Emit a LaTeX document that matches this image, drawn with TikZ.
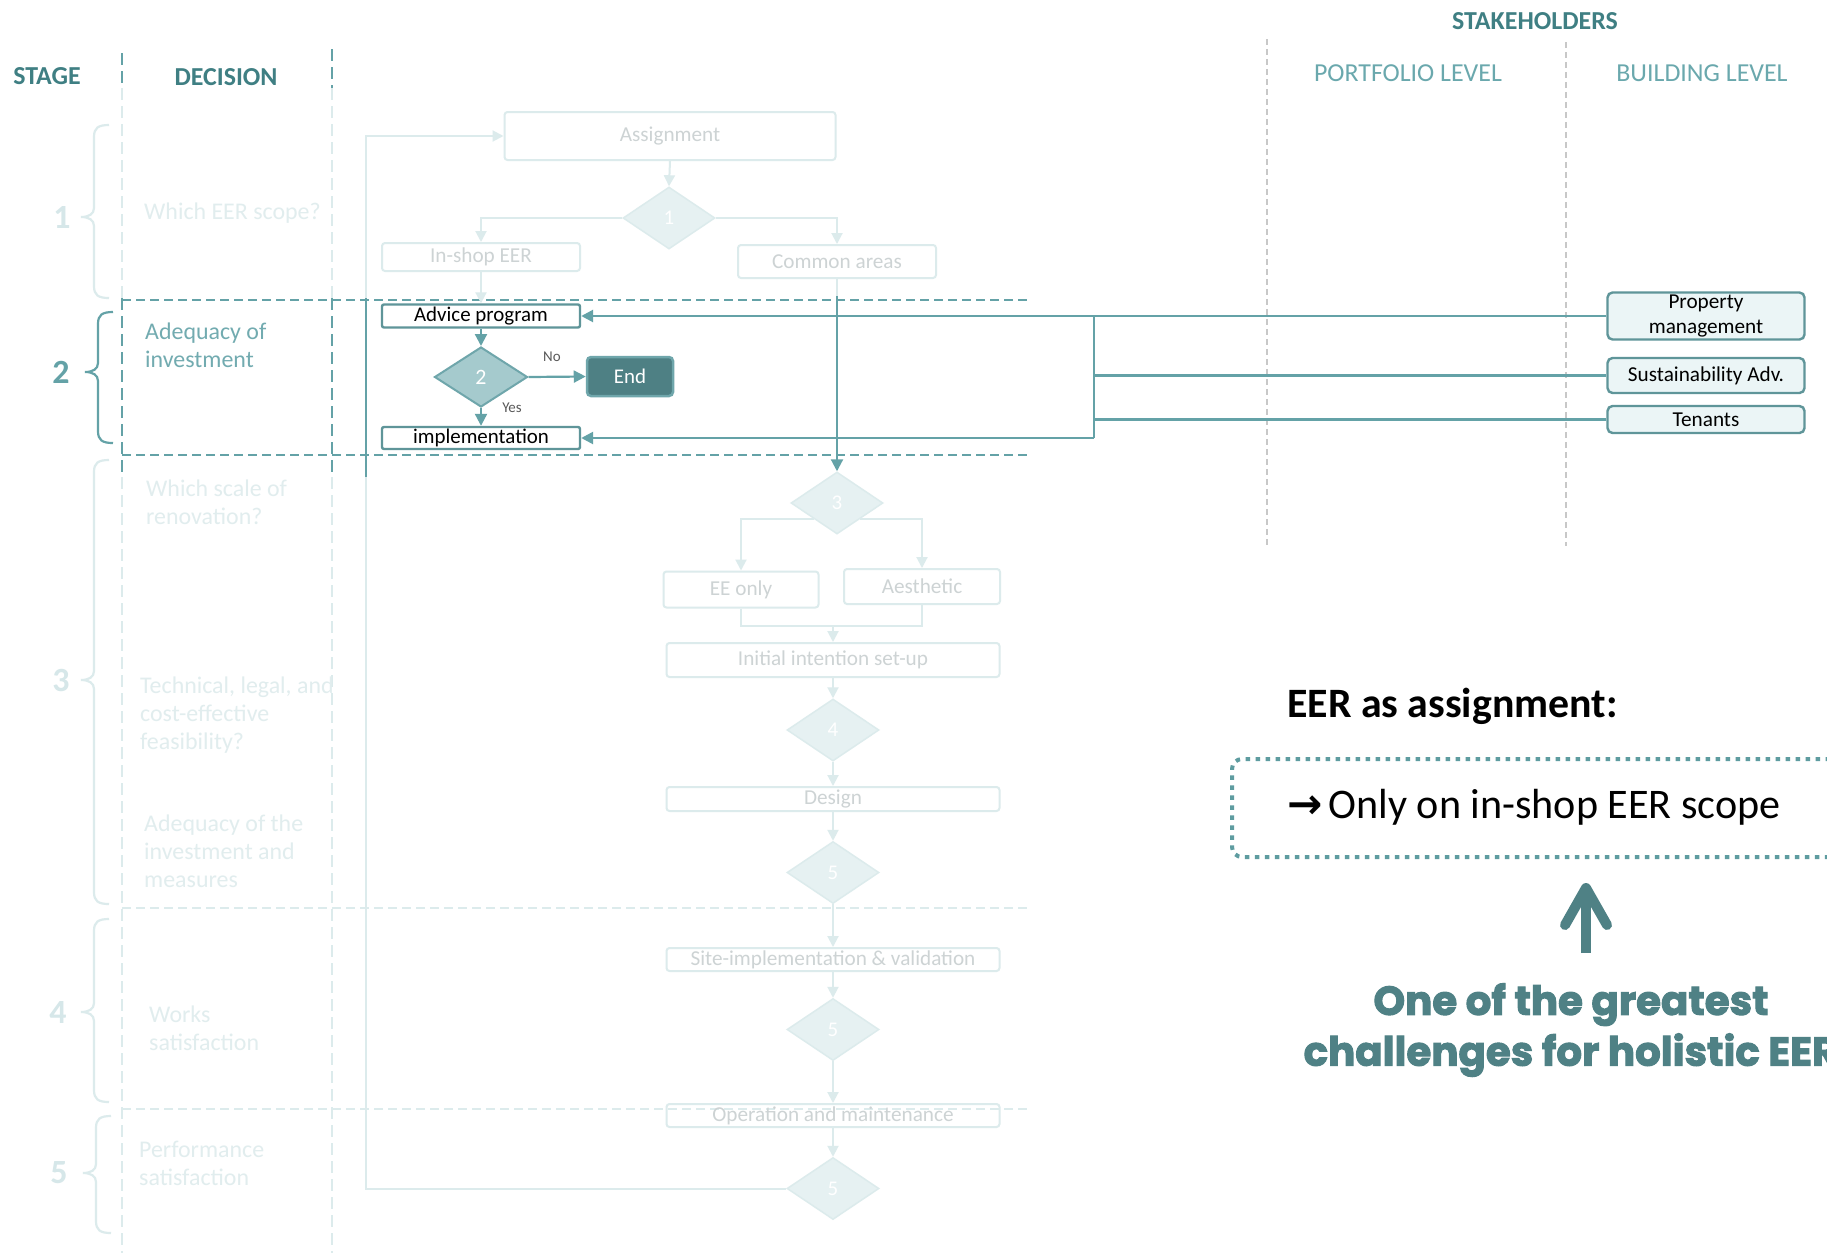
\documentclass[tikz,border=0pt]{standalone}
\usepackage{fontspec}
\setmainfont{Carlito}
\newfontfamily\heavy{Poppins}[BoldFeatures={FakeBold=2.5}]
\newfontfamily\symb{DejaVu Sans}
\usetikzlibrary{shapes.geometric,arrows.meta}
\newcommand\fsz[2]{\fontsize{#1}{#2}\selectfont}
\definecolor{cHdr}{HTML}{3F7F83}
\definecolor{cStrong}{HTML}{64A2A7}
\definecolor{cBoxLine}{HTML}{5F9599}
\definecolor{cFadeLine}{HTML}{DCEBEC}
\definecolor{cFadeText}{HTML}{CDD3D4}
\definecolor{cFadeDec}{HTML}{E1EDEE}
\definecolor{cFadeNum}{HTML}{D6E7E9}
\definecolor{cFadeFill}{HTML}{E6F1F2}
\definecolor{cDiamond}{HTML}{A5CACD}
\definecolor{cEnd}{HTML}{4E8084}
\definecolor{cEndLine}{HTML}{6FA6AB}
\definecolor{cStake}{HTML}{EBF5F6}
\definecolor{cLevel}{HTML}{6AA8AD}
\definecolor{cDec}{HTML}{72ABB0}
\definecolor{cBig}{HTML}{4F8185}
\definecolor{cGrey}{HTML}{C8C8C8}
\definecolor{cDot}{HTML}{5E9CA0}
\newcommand\stbrace[5]{\draw[#1, line width=2.2bp] (#2+15,#3) .. controls (#2+4,#3) and (#2,#3+3) .. (#2,#3+12) -- (#2,#4-9) .. controls (#2,#4-3) and (#2-5,#4) .. (#2-13,#4) .. controls (#2-5,#4) and (#2,#4+3) .. (#2,#4+9) -- (#2,#5-12) .. controls (#2,#5-3) and (#2+4,#5) .. (#2+15,#5);}
\tikzset{
 hdrs/.style={font=\bfseries\fsz{26}{30}, text=cHdr, inner sep=0},
 lvl/.style={font=\fsz{26}{30}, text=cLevel, inner sep=0},
 num/.style={font=\bfseries\fsz{34}{34}, inner sep=0},
 dec/.style={font=\fsz{24}{28}, align=left, anchor=west, inner sep=0},
 fbox/.style={rectangle, rounded corners=3bp, draw=cFadeLine, line width=2bp, inner sep=0, text=cFadeText, font=\fsz{21.3}{24}},
 sbox/.style={rectangle, rounded corners=2bp, draw=cBoxLine, line width=2.4bp, fill=white, inner sep=0, text=black, font=\fsz{21}{24}},
 fdia/.style={diamond, draw=cFadeLine, fill=cFadeFill, line width=1.5bp, inner sep=0, minimum width=92bp, minimum height=62bp, text=white, font=\fsz{21}{24}},
 stake/.style={rectangle, rounded corners=5bp, draw=cBoxLine, line width=2.4bp, fill=cStake, inner sep=0, text=black, font=\fsz{21.3}{25}, align=center, minimum width=197bp},
 fline/.style={draw=cFadeLine, line width=2bp},
 farr/.style={fline, -{Triangle[length=11bp,width=11bp]}},
 sline/.style={draw=cStrong, line width=2.2bp},
 sarr/.style={sline, -{Triangle[length=12bp,width=12bp]}},
 sdash/.style={draw=cStrong, line width=2.5bp, dash pattern=on 9bp off 5bp},
 fdash/.style={draw=cFadeLine, line width=2.5bp, dash pattern=on 9bp off 5bp},
 svdash/.style={draw=cStrong, line width=1.8bp, dash pattern=on 12bp off 6bp},
 fvdash/.style={draw=cFadeLine, line width=1.8bp, dash pattern=on 12bp off 6bp},
 gdash/.style={draw=cGrey, line width=1.3bp, dash pattern=on 6bp off 4bp},
 lbl/.style={font=\fsz{15}{16}, text=black!65, inner sep=0},
}
\begin{document}
\begin{tikzpicture}[x=1bp,y=-1bp]
\useasboundingbox (0,0) rectangle (1827,1253);
\clip (0,0) rectangle (1827,1253);
\fill[white] (0,0) rectangle (1827,1253);

% column separators
\draw[svdash] (122,53) -- (122,88);
\draw[fvdash] (122,88) -- (122,298);
\draw[svdash] (122,298) -- (122,477);
\draw[fvdash] (122,477) -- (122,1253);
\draw[svdash] (332,49) -- (332,88);
\draw[fvdash] (332,88) -- (332,298);
\draw[svdash] (332,298) -- (332,477);
\draw[fvdash] (332,477) -- (332,1253);
\draw[gdash] (1267,39) -- (1267,546);
\draw[gdash] (1566,42) -- (1566,546);

% stage separators
\draw[sdash] (122,300) -- (1031,300);
\draw[sdash] (122,455) -- (1031,455);
\draw[fdash] (122,908) -- (1031,908);
\draw[fdash] (122,1109) -- (1031,1109);

% headers
\node[hdrs] (hstage) at (47,76) {STAGE};
\node[hdrs] (hdec) at (226,77) {DECISION};
\node[hdrs] (hstake) at (1535,21) {STAKEHOLDERS};
\node[lvl] (hport) at (1408,73) {PORTFOLIO LEVEL};
\node[lvl] (hbuild) at (1702,73) {BUILDING LEVEL};

% stage braces and numbers
\stbrace{cFadeLine}{94}{125}{217}{298}
\node[num, text=cFadeNum] (n1) at (62,217) {1};
\stbrace{cStrong}{98}{312}{372}{443}
\node[num, text=cStrong] (n2) at (61,372) {2};
\stbrace{cFadeLine}{94}{460}{680}{904}
\node[num, text=cFadeNum] (n3) at (61,680) {3};
\stbrace{cFadeLine}{94}{919}{1012}{1102}
\node[num, text=cFadeNum] (n4) at (58,1012) {4};
\stbrace{cFadeLine}{96}{1116}{1173}{1233}
\node[num, text=cFadeNum] (n5) at (59,1173) {5};

% decisions
\node[dec, text=cFadeDec] (dq1) at (144,213) {Which EER scope?};
\node[dec, text=cDec] (dq2) at (145,345) {Adequacy of\\investment};
\node[dec, text=cFadeDec] (dq3) at (146,502) {Which scale of\\renovation?};
\node[dec, text=cFadeDec] (dq4) at (140,715) {Technical, legal, and\\cost-effective\\feasibility?};
\node[dec, text=cFadeDec] (dq5) at (144,851) {Adequacy of the\\investment and\\measures};
\node[dec, text=cFadeDec] (dq6) at (149,1028) {Works\\satisfaction};
\node[dec, text=cFadeDec] (dq7) at (139,1163) {Performance\\satisfaction};

% flowchart nodes
\node[fbox, minimum width=331bp, minimum height=48bp] (assign) at (670,136) {Assignment};
\node[fdia] (d1) at (669,218) {1};
\node[fbox, minimum width=198bp, minimum height=28bp] (inshop) at (481,257) {In-shop EER};
\node[fbox, minimum width=198bp, minimum height=33bp] (common) at (837,261.5) {Common areas};
\node[sbox, minimum width=198bp, minimum height=23bp] (advice) at (481,316) {Advice program};
\node[diamond, draw=cEndLine, fill=cDiamond, line width=2bp, inner sep=0, minimum width=93bp, minimum height=60bp, text=white, font=\fsz{22}{24}] (d2) at (481,377) {2};
\node[rectangle, rounded corners=4bp, draw=cEndLine, fill=cEnd, line width=2.5bp, inner sep=0, minimum width=86bp, minimum height=39bp, text=white, font=\fsz{21}{24}] (endn) at (630,376.5) {End};
\node[sbox, minimum width=198bp, minimum height=22bp] (impl) at (481,438) {implementation};
\node[fdia] (d3) at (837,503) {3};
\node[fbox, minimum width=155bp, minimum height=36bp] (eeonly) at (741,589.5) {EE only};
\node[fbox, minimum width=156bp, minimum height=35bp] (aesth) at (922,586.5) {Aesthetic};
\node[fbox, minimum width=333bp, minimum height=34bp] (intent) at (833,660) {Initial intention set-up};
\node[fdia] (d4) at (833,730) {4};
\node[fbox, minimum width=333bp, minimum height=24bp] (design) at (833,799) {Design};
\node[fdia] (d5a) at (833,872.5) {5};
\node[fbox, minimum width=333bp, minimum height=23bp] (site) at (833,959.5) {Site-implementation \& validation};
\node[fdia] (d5b) at (833,1029.5) {5};
\node[fbox, minimum width=333bp, minimum height=23bp] (oper) at (833,1115.5) {Operation and maintenance};
\node[fdia] (d5c) at (833,1188.5) {5};

% flowchart connectors
\draw[farr] (assign.south) -- (d1.north);
\draw[farr] (d1.west) -| (inshop.north);
\draw[farr] (d1.east) -| (common.north);
\draw[farr] (inshop.south) -- (advice.north);
\draw[fline] (common.south) -- (837,296);
\draw[sarr] (837,296) -- (d3.north);
\draw[sarr] (advice.south) -- (d2.north);
\draw[sarr] (d2.east) -- (endn.west);
\draw[sarr] (d2.south) -- (impl.north);
\node[lbl] (lno) at (552,357) {No};
\node[lbl] (lyes) at (512,408) {Yes};
\draw[farr] (d3.south west) -| (eeonly.north);
\draw[farr] (d3.south east) -| (aesth.north);
\coordinate (merge) at (833,626);
\draw[fline] (eeonly.south) |- (merge) -| (aesth.south);
\draw[farr] (merge) -- (intent.north);
\draw[farr] (intent.south) -- (d4.north);
\draw[farr] (d4.south) -- (design.north);
\draw[farr] (design.south) -- (d5a.north);
\draw[farr] (d5a.south) -- (site.north);
\draw[farr] (site.south) -- (d5b.north);
\draw[farr] (d5b.south) -- (oper.north);
\draw[farr] (oper.south) -- (d5c.north);
\coordinate (loopbot) at (366,1188.5);
\draw[farr] (d5c.west) -- (loopbot) |- (assign.west);
\draw[sline] (366,298) -- (366,477);

% stakeholders
\node[stake, minimum height=47bp] (prop) at (1706,316) {Property\\management};
\node[stake, minimum height=35bp] (sust) at (1706,375.5) {Sustainability Adv.};
\node[stake, minimum height=27bp] (ten) at (1706,419.5) {Tenants};
\coordinate (busT) at (1094,316);
\coordinate (busB) at (1094,438);
\draw[sline, line width=2.6bp] (busT) -- (busB);
\draw[sline, line width=2.6bp] (sust.west) -- (sust.west -| busT);
\draw[sline, line width=2.6bp] (ten.west) -- (ten.west -| busT);
\draw[sarr, line width=2.6bp] (prop.west) -- (advice.east);
\draw[sarr, line width=2.6bp] (busB) -- (impl.east);

% right annotation
\node[font=\bfseries\fsz{42}{46}, anchor=west, inner sep=0] (eer) at (1287,706) {EER as assignment:};
\draw[draw=cDot, line width=4bp, dash pattern=on 4.5bp off 5.5bp, rounded corners=10bp] (1900,759) -- (1232,759) -- (1232,857) -- (1900,857);
\node[font=\fsz{42.3}{46}, anchor=west, inner sep=0] (only) at (1287,807) {{\symb\bfseries →}\hspace{6bp}Only on in-shop EER scope};
\draw[draw=cBig, line width=10bp] (1586,953) -- (1586,892);
\draw[draw=cBig, line width=10bp, line cap=round, line join=round] (1565,925) -- (1586,888) -- (1607,925);
\node[font=\heavy\bfseries\fsz{40.5}{51}, text=cBig, align=center, inner sep=0] (chal) at (1571,1030) {One of the greatest\\challenges for holistic EER};
\end{tikzpicture}
\end{document}
